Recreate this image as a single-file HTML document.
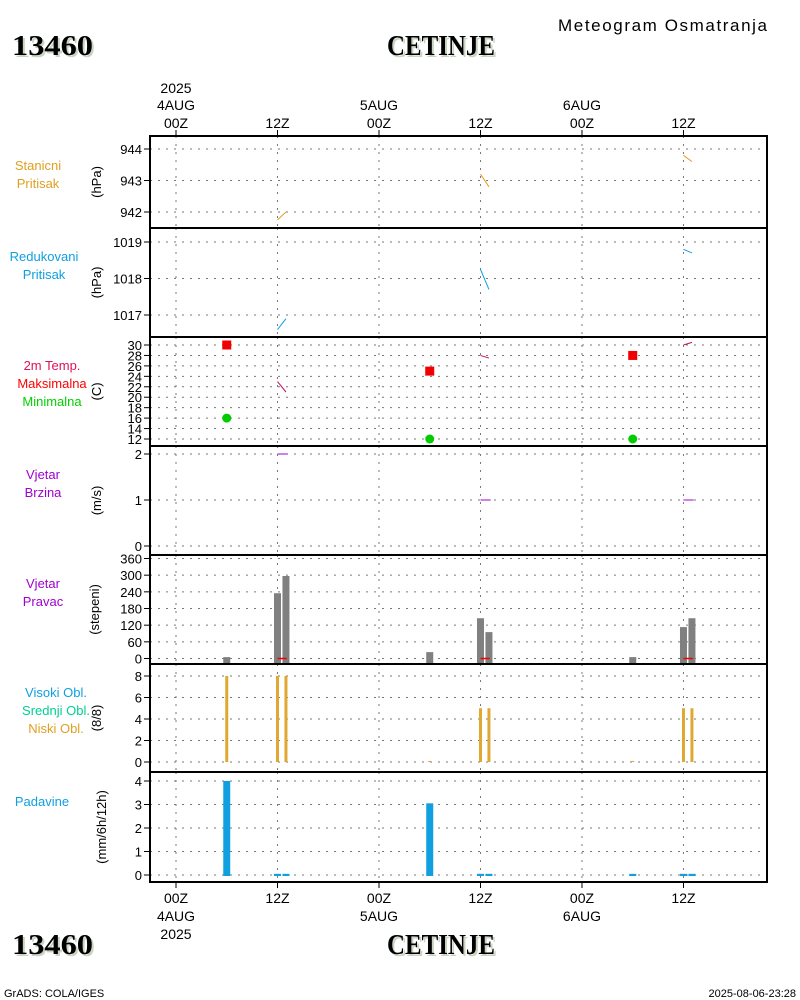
<!DOCTYPE html>
<html><head><meta charset="utf-8"><style>
body{margin:0;background:#fff}
svg{display:block;font-family:"Liberation Sans",sans-serif}
</style></head><body>
<svg id="c" width="800" height="1000" viewBox="0 0 800 1000"></svg>
<script>
// ---- data ----
const hourTicks=[0,12,24,36,48,60];
const hourLabels=["00Z","12Z","00Z","12Z","00Z","12Z"];
const dayLabels=["4AUG","","5AUG","","6AUG",""];
const stnT=[[12,13],[36,37],[60,61]];
const stnP=[[941.75,942.0],[943.2,942.8],[943.8,943.6]];
const redP=[[1016.6,1016.9],[1018.25,1017.7],[1018.8,1018.7]];
const tempLine=[[23,21],[28,27.5],[30,30.5]];
const extT=[6,30,54];
const tMax=[30,25,28];
const tMin=[16,12,12];
const windT=[12,36,60];
const windSpd=[2,1,1];
const dirT=[6,12,13,30,36,37,54,60,61];
const dirVal=[5,235,297,23,145,95,5,113,145];
const cloudT=[6,12,13,30,36,37,54,60,61];
const cloudLow=[8,8,8,0.1,5,5,0.1,5,5];
const rainT=[6,12,13,30,36,37,54,60,61];
const rainVal=[4,0.05,0.05,3.05,0.05,0.05,0.05,0.05,0.05];

const svg=document.getElementById('c');
const NS="http://www.w3.org/2000/svg";
function el(tag,attrs,txt){const e=document.createElementNS(NS,tag);for(const k in attrs)e.setAttribute(k,attrs[k]);if(txt!==undefined)e.textContent=txt;svg.appendChild(e);return e;}
const X=h=>176+h*8.458;
const L=150,R=767;
function lin(v0,y0,v1,y1){return v=>y0+(v-v0)*(y1-y0)/(v1-v0);}
const panels=[
 {top:136,bot:228,y:lin(942,212,944,149),ticks:[942,943,944],unit:"(hPa)",lx:38,ly:[170,188],lab:[["Stanicni","#e0a020"],["Pritisak","#e0a020"]]},
 {top:228,bot:337,y:lin(1017,315,1019,242),ticks:[1017,1018,1019],unit:"(hPa)",lx:44,ly:[261,279],lab:[["Redukovani","#10a0e0"],["Pritisak","#10a0e0"]]},
 {top:337,bot:446,y:lin(12,439,30,345),ticks:[12,14,16,18,20,22,24,26,28,30],unit:"(C)",lx:52,ly:[370,388,406],lab:[["2m Temp.","#e0105a"],["Maksimalna","#ff0000"],["Minimalna","#00d000"]]},
 {top:446,bot:555,y:lin(0,546,2,454),ticks:[0,1,2],unit:"(m/s)",lx:43,ly:[479,497],lab:[["Vjetar","#a000d0"],["Brzina","#a000d0"]]},
 {top:555,bot:664,y:lin(0,658.5,360,558.5),ticks:[0,60,120,180,240,300,360],unit:"(stepeni)",lx:43,ly:[588,606],lab:[["Vjetar","#a000d0"],["Pravac","#a000d0"]]},
 {top:664,bot:772,y:lin(0,762,8,676),ticks:[0,2,4,6,8],unit:"(8/8)",lx:56,ly:[697,715,733],lab:[["Visoki Obl.","#10a0e0"],["Srednji Obl.","#00d090"],["Niski Obl.","#e0a020"]]},
 {top:772,bot:882,y:lin(0,875,4,781),ticks:[0,1,2,3,4],unit:"(mm/6h/12h)",lx:42,ly:[806],lab:[["Padavine","#10a0e0"]]}
];
panels.forEach((p,i)=>{
 hourTicks.forEach(h=>{el('line',{x1:X(h),x2:X(h),y1:p.top,y2:p.bot,stroke:'#777','stroke-dasharray':'2,6'});});
 p.ticks.forEach(t=>{const y=p.y(t);
  el('line',{x1:L,x2:R,y1:y,y2:y,stroke:'#777','stroke-dasharray':'2,6'});
  el('line',{x1:L-6,x2:L,y1:y,y2:y,stroke:'#000'});
  const tx=el('text',{x:L-8,y:y+5,'text-anchor':'end','font-size':13},String(t));
  
  
 });
 const cy=(p.top+p.bot)/2;
 const ut=el('text',{x:0,y:0,transform:`translate(${i==6?106:i==4?99:101},${cy}) rotate(-90)`,'text-anchor':'middle','font-size':13},p.unit);
 
 
 p.lab.forEach((lb,j)=>{const t=el('text',{x:p.lx,y:p.ly[j],'text-anchor':'middle','font-size':13,fill:lb[1]},lb[0]);
  
  });
});
// series
stnT.forEach((t,i)=>{const l=el('line',{x1:X(t[0]),x2:X(t[1]),y1:panels[0].y(stnP[i][0]),y2:panels[0].y(stnP[i][1]),stroke:'#e0a020'});});
stnT.forEach((t,i)=>{const l=el('line',{x1:X(t[0]),x2:X(t[1]),y1:panels[1].y(redP[i][0]),y2:panels[1].y(redP[i][1]),stroke:'#10a0e0'});});
stnT.forEach((t,i)=>{const l=el('line',{x1:X(t[0]),x2:X(t[1]),y1:panels[2].y(tempLine[i][0]),y2:panels[2].y(tempLine[i][1]),stroke:'#c01060'});});
extT.forEach((t,i)=>{const r=el('rect',{x:X(t)-4.5,y:panels[2].y(tMax[i])-4.5,width:9,height:9,fill:'#f00000'});
 const c=el('circle',{cx:X(t),cy:panels[2].y(tMin[i]),r:4.5,fill:'#00cc00'});});
windT.forEach((t,i)=>{const y=panels[3].y(windSpd[i]);const l=el('line',{x1:X(t),x2:X(t+1.2),y1:y,y2:y,stroke:'#a000d0'});});
dirT.forEach((t,i)=>{const y=panels[4].y(dirVal[i]);const r=el('rect',{x:X(t)-3.5,y:y,width:7,height:663-y,fill:'#808080'});});
windT.forEach(t=>{const l=el('line',{x1:X(t),x2:X(t+1.1),y1:658.5,y2:658.5,stroke:'#f00000','stroke-width':1.5});});
cloudT.forEach((t,i)=>{const y=panels[5].y(cloudLow[i]);const r=el('rect',{x:X(t)-1.5,y:y,width:3,height:762-y,fill:'#e0a830'});});
rainT.forEach((t,i)=>{const y=panels[6].y(rainVal[i]);const r=el('rect',{x:X(t)-3.5,y:y,width:7,height:876-y,fill:'#10a0e0'});});
// frames
panels.forEach(p=>{el('line',{x1:L,x2:R,y1:p.top,y2:p.top,stroke:'#000','stroke-width':2});});
el('rect',{x:L,y:136,width:R-L,height:746,fill:'none',stroke:'#000','stroke-width':2});
// x axis labels
hourTicks.forEach((h,i)=>{const x=X(h);
 el('line',{x1:x,x2:x,y1:130,y2:136,stroke:'#000'});
 el('line',{x1:x,x2:x,y1:882,y2:888,stroke:'#000'});
 const a=el('text',{x:x,y:128,'text-anchor':'middle','font-size':14},hourLabels[i]);
 const b=el('text',{x:x,y:903,'text-anchor':'middle','font-size':14},hourLabels[i]);
 if(dayLabels[i]){el('text',{x:x,y:110,'text-anchor':'middle','font-size':14},dayLabels[i]);el('text',{x:x,y:921,'text-anchor':'middle','font-size':14},dayLabels[i]);}
});
el('text',{x:X(0),y:93,'text-anchor':'middle','font-size':14},"2025");
el('text',{x:X(0),y:939,'text-anchor':'middle','font-size':14},"2025");
// titles
function title(x,y,t,len,name){
 el('text',{x:x+2,y:y+2,'font-family':'Liberation Serif,serif','font-weight':'bold','font-size':28,fill:'#c8d4c0',textLength:len,lengthAdjust:'spacingAndGlyphs'},t);
 const e=el('text',{x:x,y:y,'font-family':'Liberation Serif,serif','font-weight':'bold','font-size':28,fill:'#000',textLength:len,lengthAdjust:'spacingAndGlyphs'},t);
 }
title(12,55,"13460",81,"station-id");
title(387,55,"CETINJE",108,"station-name");
title(12,954,"13460",81,"station-id-bottom");
title(387,954,"CETINJE",108,"station-name-bottom");
const mt=el('text',{x:558,y:31,'font-size':17,textLength:209,lengthAdjust:'spacing'},"Meteogram Osmatranja");

el('text',{x:4,y:997,'font-size':11},"GrADS: COLA/IGES");
el('text',{x:796,y:997,'font-size':11,'text-anchor':'end'},"2025-08-06-23:28");
</script>
</body></html>
